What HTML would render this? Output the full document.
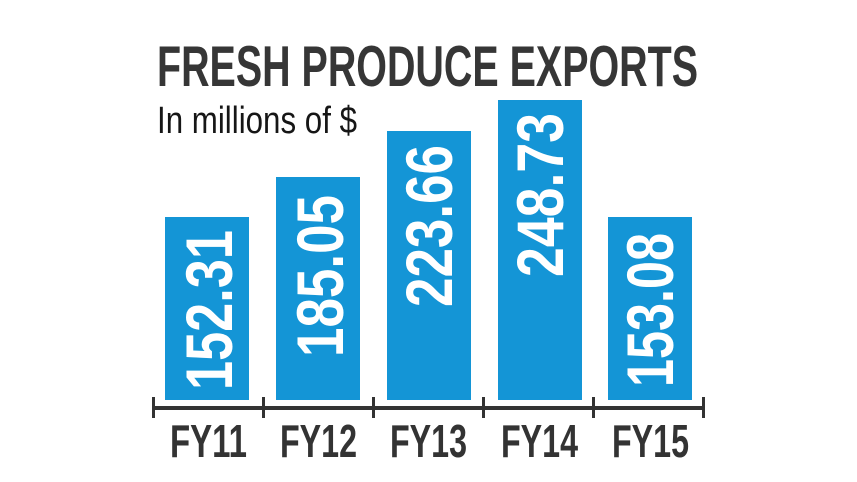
<!DOCTYPE html>
<html>
<head>
<meta charset="utf-8">
<style>
  html, body { margin: 0; padding: 0; background: #ffffff; }
  body { width: 857px; height: 482px; overflow: hidden; }
  svg { display: block; }
  .t { font-family: "Liberation Sans", sans-serif; }
</style>
</head>
<body>
<svg width="857" height="482" viewBox="0 0 857 482" xmlns="http://www.w3.org/2000/svg">
  <rect x="0" y="0" width="857" height="482" fill="#ffffff"/>

  <!-- Title -->
  <text class="t" x="157" y="86" font-size="57.6" font-weight="bold" fill="#363636"
        textLength="541" lengthAdjust="spacingAndGlyphs">FRESH PRODUCE EXPORTS</text>
  <!-- Subtitle -->
  <text class="t" x="157" y="133" font-size="38.4" fill="#161616"
        textLength="200" lengthAdjust="spacingAndGlyphs">In millions of $</text>

  <!-- Bars -->
  <g fill="#1495d6">
    <rect x="165" y="217" width="84" height="183"/>
    <rect x="276" y="177" width="84" height="223"/>
    <rect x="387" y="131" width="84" height="269"/>
    <rect x="498" y="100" width="84" height="300"/>
    <rect x="608" y="217" width="84" height="183"/>
  </g>

  <!-- Bar values (rotated) -->
  <g class="t" font-size="66" font-weight="bold" fill="#ffffff">
    <text transform="translate(232,390) rotate(-90)" x="0" y="0" textLength="160" lengthAdjust="spacingAndGlyphs">152.31</text>
    <text transform="translate(343,357) rotate(-90)" x="0" y="0" textLength="162" lengthAdjust="spacingAndGlyphs">185.05</text>
    <text transform="translate(452,307) rotate(-90)" x="0" y="0" textLength="162" lengthAdjust="spacingAndGlyphs">223.66</text>
    <text transform="translate(563,277) rotate(-90)" x="0" y="0" textLength="164" lengthAdjust="spacingAndGlyphs">248.73</text>
    <text transform="translate(673,387) rotate(-90)" x="0" y="0" textLength="154" lengthAdjust="spacingAndGlyphs">153.08</text>
  </g>

  <!-- Axis -->
  <g fill="#333333">
    <rect x="152" y="406" width="552" height="4"/>
    <rect x="152" y="397" width="3" height="21"/>
    <rect x="262" y="397" width="3" height="21"/>
    <rect x="372" y="397" width="3" height="21"/>
    <rect x="482" y="397" width="3" height="21"/>
    <rect x="592" y="397" width="3" height="21"/>
    <rect x="702" y="397" width="3" height="21"/>
  </g>

  <!-- Category labels -->
  <g class="t" font-size="46.6" font-weight="bold" fill="#333333">
    <text x="170" y="457" textLength="77" lengthAdjust="spacingAndGlyphs">FY11</text>
    <text x="280" y="457" textLength="77" lengthAdjust="spacingAndGlyphs">FY12</text>
    <text x="390" y="457" textLength="77" lengthAdjust="spacingAndGlyphs">FY13</text>
    <text x="501" y="457" textLength="77" lengthAdjust="spacingAndGlyphs">FY14</text>
    <text x="612" y="457" textLength="77" lengthAdjust="spacingAndGlyphs">FY15</text>
  </g>
</svg>
</body>
</html>
